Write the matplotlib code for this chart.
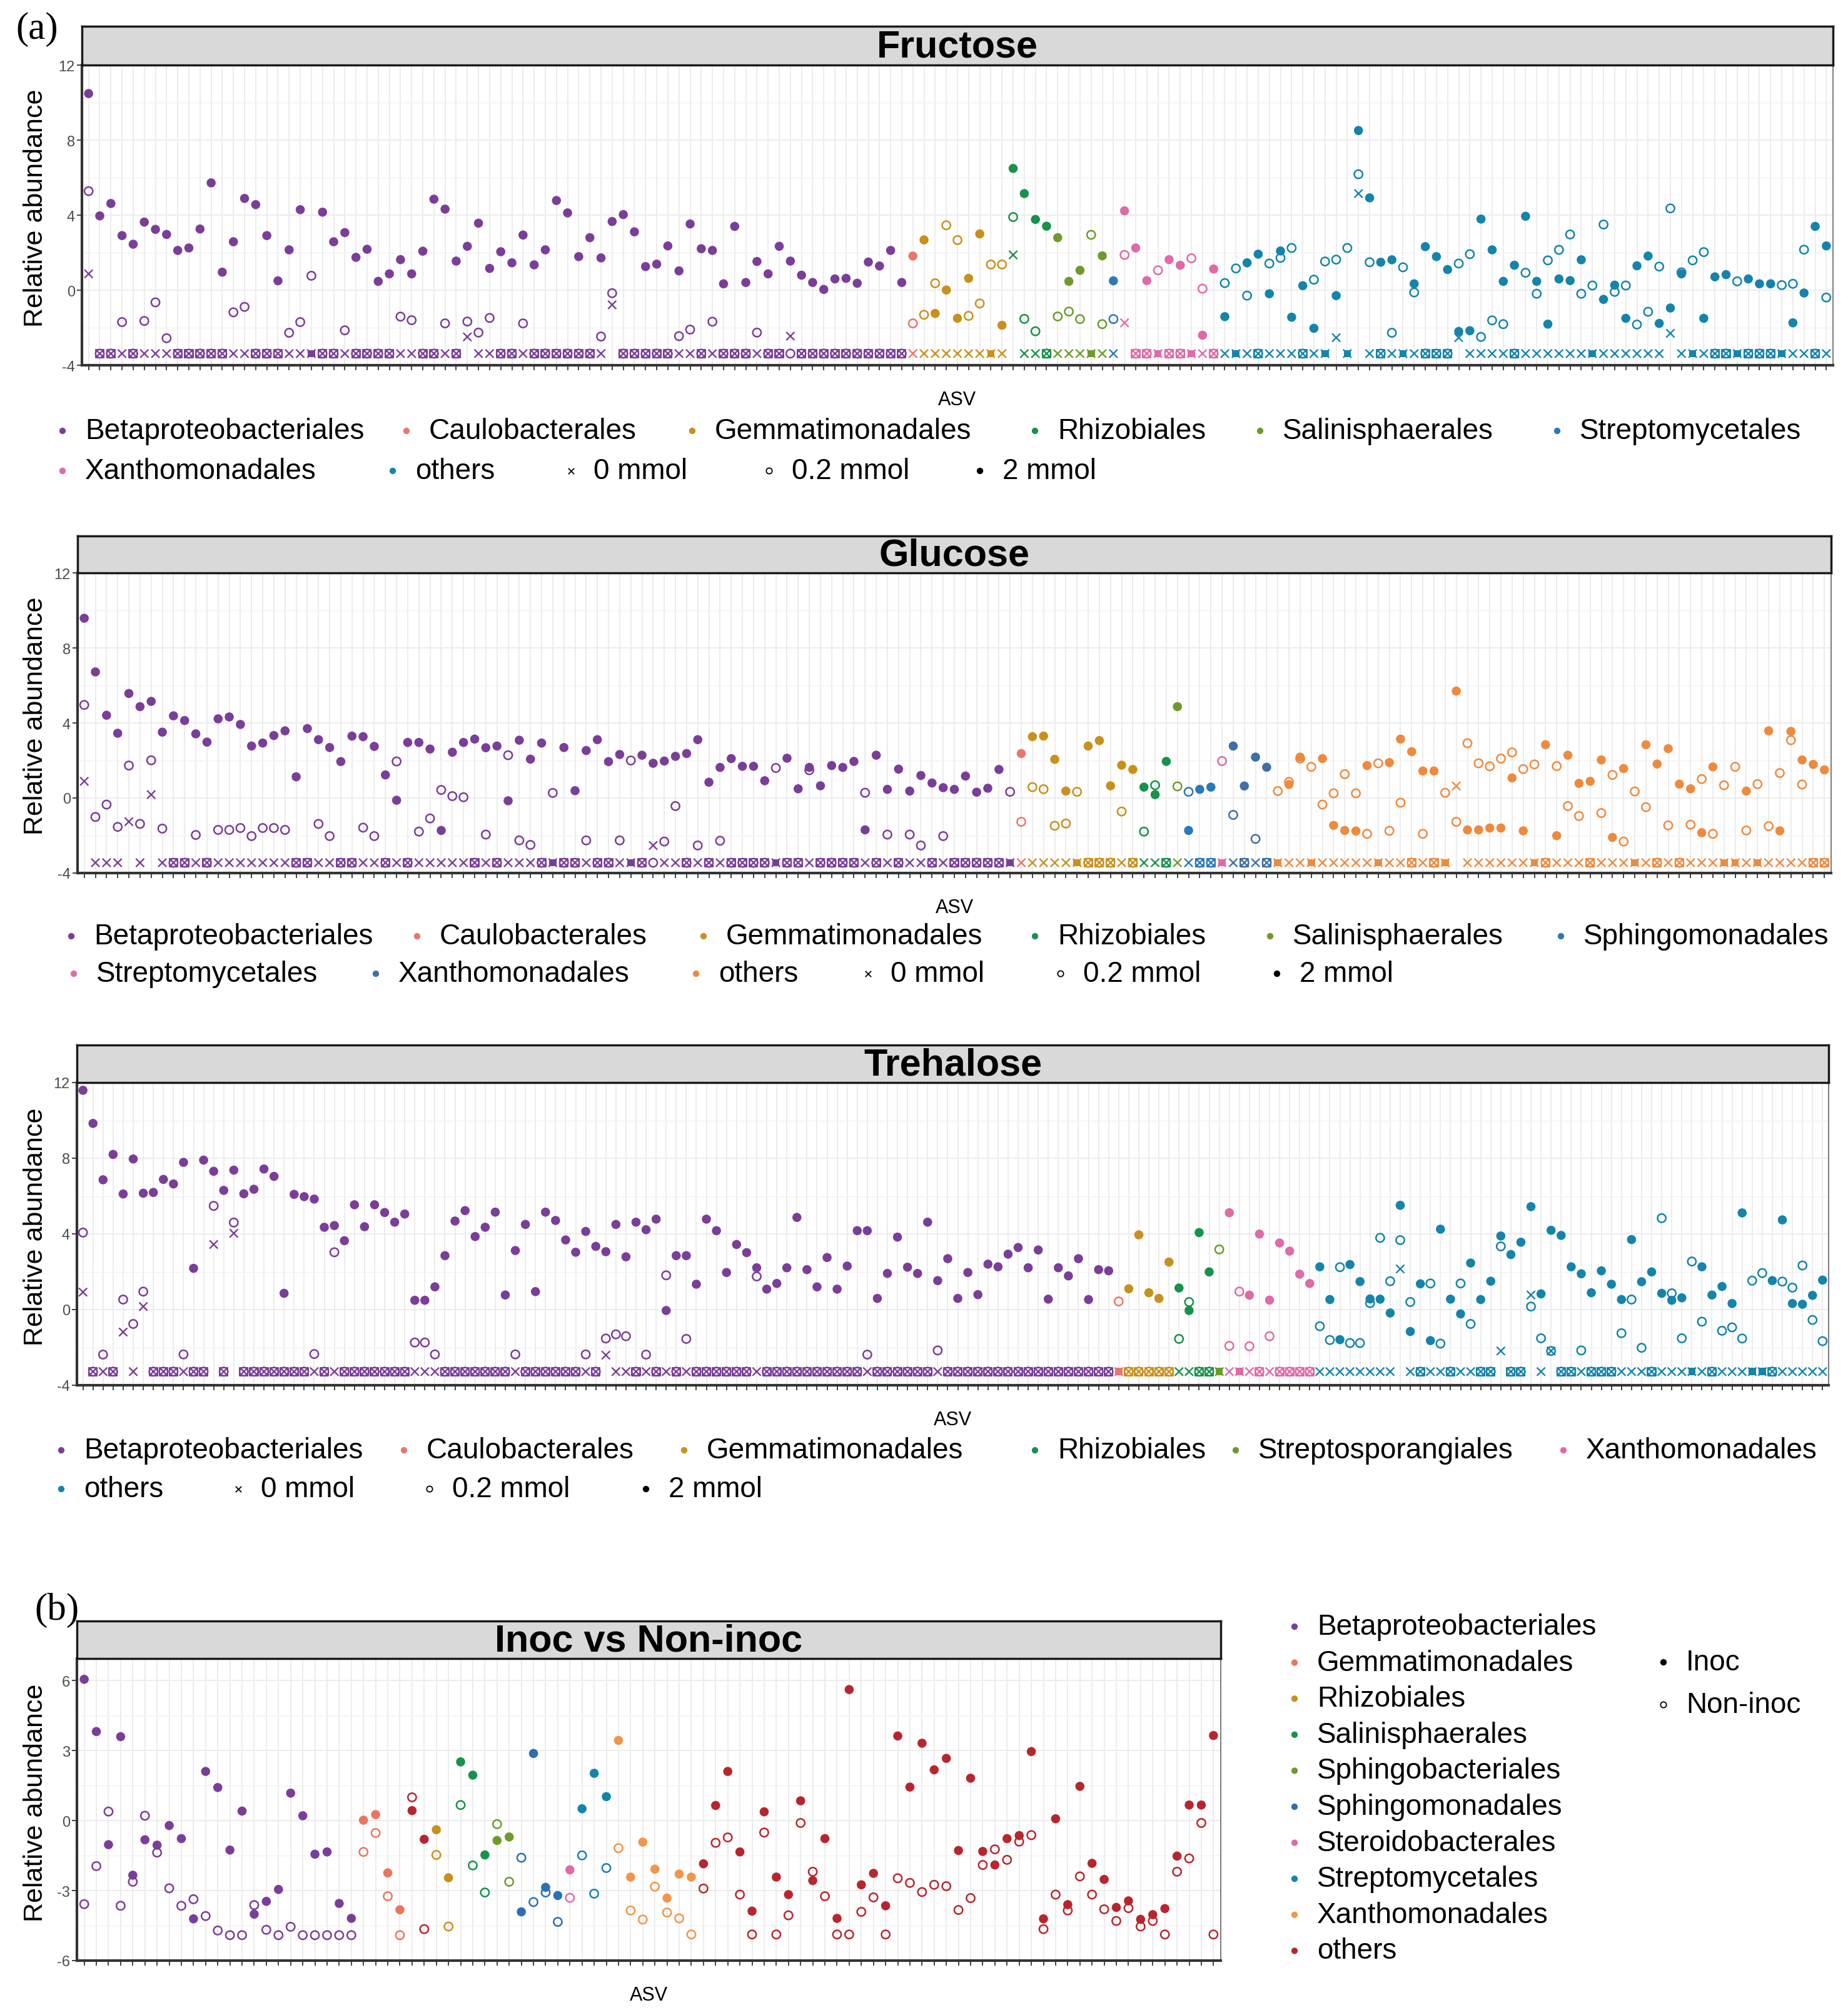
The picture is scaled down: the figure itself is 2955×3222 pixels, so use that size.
import numpy as np
import matplotlib
matplotlib.use("Agg")
import matplotlib.pyplot as plt

plt.rcParams['font.family'] = ['Liberation Sans', 'DejaVu Sans']

W, H = 2955, 3223

# ---------------- Fructose ----------------
fru_orders = ['Betaproteobacteriales', 'Caulobacterales', 'Gemmatimonadales', 'Rhizobiales',
              'Salinisphaerales', 'Streptomycetales', 'Xanthomonadales', 'others']
fru_counts = [74, 1, 8, 4, 5, 1, 9, 55]
fru_colors = ['#7A3E98', '#E8766D', '#C8901C', '#17924A', '#6E9A2C', '#2B79B8', '#DE6AA6', '#1484AA']
f = -3.38  # valor minimo (no detectado)
fru_2mmol = [10.48, 3.96, 4.62, 2.91, 2.45, 3.63, 3.24, 2.97, 2.12, 2.25,
             3.26, 5.72, 0.96, 2.58, 4.89, 4.56, 2.91, 0.50, 2.15, 4.29,
             f, 4.16, 2.58, 3.07, 1.75, 2.18, 0.47, 0.87, 1.63, 0.87,
             2.08, 4.85, 4.32, 1.55, 2.34, 3.57, 1.16, 2.05, 1.46, 2.94,
             1.35, 2.15, 4.78, 4.12, 1.79, 2.80, 1.72, 3.66, 4.03, 3.11,
             1.26, 1.39, 2.36, 1.03, 3.53, 2.21, 2.12, 0.34, 3.40, 0.41,
             1.53, 0.87, 2.34, 1.55, 0.80, 0.41, 0.04, 0.60, 0.63, 0.37,
             1.50, 1.29, 2.12, 0.41, 1.82, 2.68, -1.24, 0.01, -1.50, 0.63,
             3.00, f, -1.87, 6.49, 5.15, 3.77, 3.41, 2.80, 0.47, 1.06,
             f, 1.83, 0.50, 4.23, 2.25, 0.51, f, 1.63, 1.33, f,
             -2.40, 1.13, -1.41, f, 1.46, 1.92, -0.19, 2.09, -1.44, 0.24,
             -2.03, f, -0.29, f, 8.51, 4.92, 1.49, 1.62, f, 0.34,
             2.32, 1.79, 1.10, -2.20, -2.16, 3.79, 2.15, 0.47, 1.33, 3.94,
             0.47, -1.81, 0.60, 0.51, 1.62, f, -0.49, 0.27, -1.50, 1.30,
             1.82, -1.77, -0.95, 0.87, f, -1.50, 0.71, 0.83, f, 0.60,
             0.34, 0.34, f, -1.74, -0.15, 3.40, 2.36]
fru_02mmol = [5.28, f, f, -1.70, f, -1.64, -0.65, -2.56, f, f,
              f, f, f, -1.18, -0.89, f, f, f, -2.27, -1.70,
              0.77, f, f, -2.14, f, f, f, f, -1.41, -1.60,
              f, f, -1.77, f, -1.67, -2.26, -1.48, f, f, -1.77,
              f, f, f, f, f, f, -2.47, -0.16, f, f,
              f, f, f, -2.45, -2.10, f, -1.68, f, f, f,
              -2.26, f, f, f, f, f, f, f, f, f,
              f, f, f, f, -1.77, -1.31, 0.37, 3.46, 2.67, -1.37,
              -0.71, 1.37, 1.37, 3.90, -1.53, -2.19, f, -1.40, -1.14, -1.54,
              2.95, -1.81, -1.54, 1.88, f, f, 1.06, f, f, 1.70,
              0.08, f, 0.38, 1.16, -0.29, f, 1.42, 1.72, 2.25, f,
              0.56, 1.53, 1.63, 2.25, 6.18, 1.49, f, -2.27, 1.22, -0.12,
              f, f, f, 1.42, 1.92, -2.49, -1.61, -1.81, f, 0.93,
              -0.19, 1.59, 2.15, 2.97, -0.19, 0.25, 3.50, -0.09, 0.25, -1.83,
              -1.15, 1.26, 4.36, 0.95, 1.59, 2.03, f, f, 0.47, f,
              f, f, 0.27, 0.34, 2.16, f, -0.39]
fru_0mmol = [0.87, f, f, f, f, f, f, f, f, f,
             f, f, f, f, f, f, f, f, f, f,
             f, f, f, f, f, f, f, f, f, f,
             f, f, f, f, -2.49, f, f, f, f, f,
             f, f, f, f, f, f, f, -0.78, f, f,
             f, f, f, f, f, f, f, f, f, f,
             f, f, f, -2.45, f, f, f, f, f, f,
             f, f, f, f, f, f, f, f, f, f,
             f, f, f, 1.88, f, f, f, f, f, f,
             f, f, f, -1.74, f, f, f, f, f, f,
             f, f, f, f, f, f, f, f, f, f,
             f, f, -2.53, f, 5.15, f, f, f, f, f,
             f, f, f, -2.53, f, f, f, f, f, f,
             f, f, f, f, f, f, f, f, f, f,
             f, f, -2.30, f, f, f, f, f, f, f,
             f, f, f, f, f, f, f]

# ---------------- Glucose ----------------
glu_orders = ['Betaproteobacteriales', 'Caulobacterales', 'Gemmatimonadales', 'Rhizobiales',
              'Salinisphaerales', 'Sphingomonadales', 'Streptomycetales', 'Xanthomonadales', 'others']
glu_counts = [84, 1, 10, 3, 1, 3, 1, 4, 50]
glu_colors = ['#7A3E98', '#E8766D', '#C8901C', '#17924A', '#6E9A2C', '#2B79B8', '#DE6AA6', '#3F6FA6', '#EE8A3E']
g = -3.45
glu_2mmol = [9.58, 6.72, 4.41, 3.45, 5.57, 4.87, 5.15, 3.51, 4.38, 4.13,
             3.42, 2.98, 4.22, 4.32, 3.92, 2.77, 2.93, 3.33, 3.58, 1.13,
             3.70, 3.11, 2.69, 1.94, 3.30, 3.27, 2.75, 1.23, -0.12, 2.96,
             2.96, 2.61, -1.73, 2.44, 2.96, 3.14, 2.68, 2.77, -0.15, 3.08,
             2.07, 2.93, g, 2.69, 0.39, 2.53, 3.11, 1.94, 2.32, g,
             2.28, 1.85, 1.97, 2.22, 2.37, 3.11, 0.84, 1.63, 2.10, 1.69,
             1.69, 0.92, g, 2.12, 0.49, 1.63, 0.65, 1.73, 1.63, 1.95,
             -1.70, 2.28, 0.46, 1.54, 0.37, 1.20, 0.80, 0.55, 0.46, 1.17,
             0.31, 0.52, 1.52, g, 2.37, 3.27, 3.30, 2.06, 0.37, g,
             2.77, 3.06, 0.65, 1.75, 1.52, 0.58, 0.18, 1.95, 4.87, -1.73,
             0.46, 0.58, g, 2.77, 0.64, 2.18, 1.64, g, 0.72, 2.18,
             g, 2.10, -1.46, -1.73, -1.76, 1.73, g, 1.89, 3.14, 2.47,
             1.44, 1.44, g, 5.70, -1.70, -1.70, -1.60, -1.60, 1.07, -1.75,
             g, 2.84, -2.01, 2.28, 0.78, 0.89, 2.03, -2.10, 1.57, g,
             2.84, 1.81, 2.63, 0.74, 0.49, -1.85, 1.66, g, g, 0.37,
             g, 3.58, -1.75, 3.55, 2.03, 1.79, 1.50]
glu_02mmol = [4.96, -1.01, -0.35, -1.54, 1.73, -1.38, 2.01, -1.63, g, g,
              -1.97, g, -1.70, -1.70, -1.60, -2.03, -1.60, -1.60, -1.70, g,
              g, -1.38, -2.03, g, g, -1.58, -2.03, g, 1.95, g,
              -1.79, -1.09, 0.43, 0.10, 0.04, g, -1.95, g, 2.28, -2.26,
              -2.50, g, 0.27, g, g, -2.26, g, g, -2.26, 2.00,
              g, g, -2.32, -0.43, g, -2.53, g, -2.28, g, g,
              g, g, 1.60, g, g, 1.48, g, g, g, g,
              0.28, g, -1.95, g, -1.95, -2.53, g, -2.03, g, g,
              g, g, g, 0.33, -1.27, 0.58, 0.47, -1.48, -1.36, 0.33,
              g, g, g, -0.72, g, -1.79, 0.68, g, 0.62, 0.33,
              g, g, 1.97, -0.90, g, -2.18, g, 0.37, 0.86, 2.10,
              1.66, -0.35, 0.25, 1.27, 0.25, -1.91, 1.85, -1.75, -0.25, g,
              -1.91, g, 0.28, -1.27, 2.92, 1.85, 1.69, 2.10, 2.43, 1.54,
              1.79, g, 1.70, -0.43, -0.96, g, -0.80, 1.23, -2.32, 0.35,
              -0.49, g, -1.46, g, -1.42, 1.01, -1.91, 0.68, 1.66, -1.73,
              0.74, -1.50, 1.33, 3.08, 0.72, g, g]
glu_0mmol = [0.89, g, g, g, -1.26, g, 0.18, g, g, g,
             g, g, g, g, g, g, g, g, g, g,
             g, g, g, g, g, g, g, g, g, g,
             g, g, g, g, g, g, g, g, g, g,
             g, g, g, g, g, g, g, g, g, g,
             g, -2.53, g, g, g, g, g, g, g, g,
             g, g, g, g, g, g, g, g, g, g,
             g, g, g, g, g, g, g, g, g, g,
             g, g, g, g, g, g, g, g, g, g,
             g, g, g, g, g, g, g, g, g, g,
             g, g, g, g, g, g, g, g, g, g,
             g, g, g, g, g, g, g, g, g, g,
             g, g, g, 0.64, g, g, g, g, g, g,
             g, g, g, g, g, g, g, g, g, g,
             g, g, g, g, g, g, g, g, g, g,
             g, g, g, g, g, g, g]

# ---------------- Trehalose ----------------
tre_orders = ['Betaproteobacteriales', 'Caulobacterales', 'Gemmatimonadales', 'Rhizobiales',
              'Streptosporangiales', 'Xanthomonadales', 'others']
tre_counts = [103, 1, 5, 4, 1, 9, 51]
tre_colors = ['#7A3E98', '#E8766D', '#C8901C', '#17924A', '#6E9A2C', '#DE6AA6', '#1484AA']
t = -3.28
tre_2mmol = [11.59, 9.84, 6.86, 8.20, 6.11, 7.96, 6.15, 6.19, 6.88, 6.64,
             7.78, 2.18, 7.90, 7.31, 6.30, 7.37, 6.12, 6.36, 7.43, 7.04,
             0.86, 6.09, 5.97, 5.84, 4.35, 4.44, 3.64, 5.54, 4.38, 5.54,
             5.13, 4.62, 5.05, 0.49, 0.49, 1.20, 2.85, 4.68, 5.23, 3.86,
             4.35, 5.15, 0.77, 3.12, 4.50, 0.95, 5.15, 4.71, 3.68, 3.03,
             4.13, 3.34, 3.06, 4.50, 2.79, 4.62, 4.22, 4.78, -0.05, 2.85,
             2.85, 1.34, 4.78, 4.17, 1.96, 3.44, 3.01, 2.21, 1.08, 1.38,
             2.21, 4.87, 2.11, 1.20, 2.75, 1.08, 2.30, 4.17, 4.17, 0.59,
             1.91, 3.83, 2.24, 1.91, 4.62, 1.53, 2.69, 0.59, 1.96, 0.79,
             2.40, 2.26, 2.93, 3.28, 2.21, 3.15, 0.55, 2.21, 1.78, 2.69,
             0.53, 2.11, 2.05, t, 1.10, 3.95, 0.89, 0.59, 2.51, 1.14,
             -0.05, 4.07, 1.99, t, 5.12, t, 0.76, 3.99, 0.50, 3.52,
             3.09, 1.87, 1.38, 2.26, 0.53, -1.59, 2.38, 1.48, 0.56, 0.55,
             -0.18, 5.51, -1.16, 1.36, -1.64, 4.25, 0.55, -0.23, 2.46, 0.53,
             1.50, 3.89, 2.91, 3.56, 5.44, 0.83, 4.19, 3.92, 2.26, 1.89,
             0.89, 2.05, 1.34, 0.53, 3.70, 1.47, 1.99, 0.86, 0.49, 0.62,
             t, 2.26, 0.77, 1.22, 0.32, 5.11, t, t, 1.53, 4.74,
             0.32, 0.28, 0.75, 1.56]
tre_02mmol = [4.07, t, -2.38, t, 0.53, -0.76, 0.95, t, t, t,
              -2.37, t, t, 5.48, t, 4.60, t, t, t, t,
              t, t, t, -2.35, t, 3.03, t, t, t, t,
              t, t, t, -1.74, -1.74, -2.37, t, t, t, t,
              t, t, t, -2.37, t, t, t, t, t, t,
              -2.37, t, -1.53, -1.31, -1.41, t, -2.38, t, 1.81, t,
              -1.55, t, t, t, t, t, t, 1.75, t, t,
              t, t, t, t, t, t, t, t, -2.38, t,
              t, t, t, t, t, -2.16, t, t, t, t,
              t, t, t, t, t, t, t, t, t, t,
              t, t, t, 0.43, t, t, t, t, t, -1.55,
              0.40, t, t, 3.18, -1.92, 0.95, -1.94, t, -1.41, t,
              t, t, t, -0.88, -1.61, 2.24, -1.77, -1.77, 0.34, 3.79,
              1.50, 3.67, 0.40, t, 1.38, -1.80, t, 1.38, -0.76, t,
              t, 3.34, t, t, 0.16, -1.52, -2.19, t, t, -2.16,
              t, t, t, -1.25, 0.53, -2.02, t, 4.83, 0.86, -1.52,
              2.54, -0.64, t, -1.12, -0.94, -1.53, 1.53, 1.93, t, 1.48,
              1.16, 2.33, -0.55, -1.67]
tre_0mmol = [0.92, t, t, t, -1.19, t, 0.16, t, t, t,
             t, t, t, 3.44, t, 4.03, t, t, t, t,
             t, t, t, t, t, t, t, t, t, t,
             t, t, t, t, t, t, t, t, t, t,
             t, t, t, t, t, t, t, t, t, t,
             t, t, -2.41, t, t, t, t, t, t, t,
             t, t, t, t, t, t, t, t, t, t,
             t, t, t, t, t, t, t, t, t, t,
             t, t, t, t, t, t, t, t, t, t,
             t, t, t, t, t, t, t, t, t, t,
             t, t, t, t, t, t, t, t, t, t,
             t, t, t, t, t, t, t, t, t, t,
             t, t, t, t, t, t, t, t, t, t,
             t, 2.15, t, t, t, t, t, t, t, t,
             t, -2.19, t, t, 0.77, t, -2.19, t, t, t,
             t, t, t, t, t, t, t, t, t, t,
             t, t, t, t, t, t, t, t, t, t,
             t, t, t, t]

# ---------------- Inoc vs Non-inoc ----------------
inoc_orders = ['Betaproteobacteriales', 'Gemmatimonadales', 'Rhizobiales', 'Salinisphaerales',
               'Sphingobacteriales', 'Sphingomonadales', 'Steroidobacterales', 'Streptomycetales',
               'Xanthomonadales', 'others']
inoc_colors = ['#7A3E98', '#E8765C', '#C8901C', '#17924A', '#6E9A2C', '#2B6FB5', '#DE6AA6',
               '#1484AA', '#F0954A', '#B8262D']
inoc_runs = ['Betaproteobacteriales', 'Gemmatimonadales', 'others', 'Rhizobiales', 'Salinisphaerales',
             'Sphingobacteriales', 'Sphingomonadales', 'Steroidobacterales', 'Streptomycetales',
             'Xanthomonadales', 'others']
inoc_run_counts = [23, 4, 2, 2, 3, 2, 4, 1, 3, 7, 43]
inoc_vals = [6.06, 3.82, -1.03, 3.60, -2.34, -0.82, -1.05, -0.21, -0.77, -4.21,
             2.11, 1.42, -1.26, 0.41, -4.01, -3.46, -2.95, 1.18, 0.21, -1.44,
             -1.34, -3.55, -4.19, 0.02, 0.26, -2.24, -3.82, 0.43, -0.80, -0.39,
             -2.45, 2.52, 1.95, -1.47, -0.85, -0.70, -3.91, 2.88, -2.86, -3.21,
             -2.11, 0.51, 2.03, 1.03, 3.44, -2.42, -0.92, -2.08, -3.32, -2.29,
             -2.42, -1.85, 0.65, 2.11, -1.34, -3.88, 0.38, -2.42, -3.17, 0.85,
             -2.57, -0.77, -4.19, 5.62, -2.75, -2.26, -3.65, 3.63, 1.44, 3.32,
             2.18, 2.67, -1.28, 1.82, -1.32, -1.90, -0.77, -0.64, 2.96, -4.21,
             0.08, -3.60, 1.47, -1.83, -2.52, -3.72, -3.44, -4.23, -4.03, -3.77,
             -1.52, 0.67, 0.67, 3.65]
noninoc_vals = [-3.58, -1.95, 0.39, -3.65, -2.62, 0.21, -1.37, -2.90, -3.65, -3.37,
                -4.09, -4.71, -4.91, -4.91, -3.62, -4.68, -4.91, -4.55, -4.91, -4.91,
                -4.91, -4.91, -4.91, -1.34, -0.53, -3.24, -4.91, 1.00, -4.65, -1.47,
                -4.54, 0.67, -1.92, -3.08, -0.15, -2.62, -1.59, -3.49, -3.08, -4.34,
                -3.31, -1.49, -3.13, -2.03, -1.18, -3.85, -4.24, -2.83, -3.94, -4.19,
                -4.88, -2.91, -0.95, -0.72, -3.17, -4.88, -0.51, -4.88, -4.06, -0.10,
                -2.19, -3.24, -4.88, -4.88, -3.91, -3.29, -4.88, -2.47, -2.67, -3.06,
                -2.75, -2.81, -3.83, -3.32, -1.90, -1.23, -1.68, -0.90, -0.62, -4.65,
                -3.17, -3.85, -2.39, -3.17, -3.80, -4.30, -3.75, -4.54, -4.30, -4.88,
                -2.19, -1.62, -0.10, -4.88]

dose_labels = ['0 mmol', '0.2 mmol', '2 mmol']
inoc_labels = ['Inoc', 'Non-inoc']

fig = plt.figure(figsize=(W / 100, H / 100), dpi=100)

# capa para textos y leyendas en pixeles
lay = fig.add_axes([0, 0, 1, 1], zorder=5)
lay.set_xlim(0, W)
lay.set_ylim(H, 0)
lay.axis('off')

tick_font = ['Liberation Sans Narrow', 'Liberation Sans', 'DejaVu Sans']


def draw_points(ax, x, vals, cols, kind, floor=None, boxed=None):
    v = np.array(vals, dtype=float)
    cols = np.array(cols)
    low = np.isclose(v, floor) if floor is not None else np.zeros(len(v), bool)
    if kind == 'x':
        ax.scatter(x, v, marker='x', c=cols, s=90, linewidths=1.7, zorder=3)
    elif kind == 'open':
        ax.scatter(x, v, marker='o', facecolors='none', edgecolors=cols, s=92,
                   linewidths=1.8, zorder=3)
        if boxed is not None and boxed.any():
            # caja alrededor de los no detectados (circulo + cruz)
            ax.scatter(x[boxed], v[boxed], marker='s', facecolors='none',
                       edgecolors=cols[boxed], s=88, linewidths=1.4, zorder=3)
    else:
        ax.scatter(x[~low], v[~low], marker='o', c=cols[~low], edgecolors='none', s=110, zorder=4)
        if low.any():
            ax.scatter(x[low], v[low], marker='s', c=cols[low], edgecolors='none', s=70, zorder=4)


def panel(box, strip_top, title, runs, run_counts, palette, series, ylim, yticks, yminor, floor=None):
    left, top, right, bottom = box
    ax = fig.add_axes([left / W, 1 - bottom / H, (right - left) / W, (bottom - top) / H])
    cols = [palette[name] for name, n in zip(runs, run_counts) for _ in range(n)]
    n = len(cols)
    x = np.arange(1, n + 1)
    boxed = None
    if floor is not None:
        v0 = np.array(series[0][0], dtype=float)
        v02 = np.array(series[1][0], dtype=float)
        boxed = np.isclose(v0, floor) & np.isclose(v02, floor)
    for vals, kind in series:
        draw_points(ax, x, vals, cols, kind, floor, boxed)
    ax.set_xlim(0.4, n + 0.6)
    ax.set_ylim(*ylim)
    ax.set_xticks(x)
    ax.set_xticklabels([])
    ax.set_yticks(yticks)
    ax.set_yticks(yminor, minor=True)
    ax.set_yticklabels([f'{v:g}' for v in yticks], family=tick_font)
    ax.set_axisbelow(True)
    ax.grid(True, which='major', color='#ebebeb', linewidth=1.3)
    ax.grid(True, which='minor', axis='y', color='#f2f2f2', linewidth=1.0)
    ax.tick_params(axis='both', which='major', length=6, width=1.3, color='#333333',
                   labelsize=17, labelcolor='#4d4d4d', pad=2)
    ax.tick_params(axis='y', which='minor', length=0)
    for sp in ax.spines.values():
        sp.set_color('#7f7f7f')
        sp.set_linewidth(1.5)
    ax.spines['left'].set_color('#333333')
    ax.spines['left'].set_linewidth(3)
    ax.spines['bottom'].set_color('#333333')
    ax.spines['bottom'].set_linewidth(3)

    sa = fig.add_axes([left / W, 1 - top / H, (right - left) / W, (top - strip_top) / H])
    sa.set_facecolor('#d9d9d9')
    sa.set_xticks([])
    sa.set_yticks([])
    for sp in sa.spines.values():
        sp.set_color('#1a1a1a')
        sp.set_linewidth(2.5)
    sa.text(0.5, 0.47, title, ha='center', va='center', fontsize=44, fontweight='bold',
            transform=sa.transAxes)

    lay.text(57, (top + bottom) / 2 - 12, 'Relative abundance', rotation=90, ha='center',
             va='center', fontsize=31)
    lay.text((left + right) / 2, bottom + 55, 'ASV', ha='center', va='center', fontsize=22)
    return ax


def key(kind, color, label, tx, ty, off=36):
    if kind == 'x':
        lay.scatter([tx - off], [ty], marker='x', c=color, s=45, linewidths=1.3)
    elif kind == 'open':
        lay.scatter([tx - off], [ty], marker='o', facecolors='none', edgecolors=color,
                    s=45, linewidths=1.3)
    else:
        lay.scatter([tx - off], [ty], marker='o', c=color, edgecolors='none', s=55)
    lay.text(tx, ty, label, ha='left', va='center', fontsize=33)


yt_a = [-4, 0, 4, 8, 12]
ym_a = [-2, 2, 6, 10]
dose_kinds = ['x', 'open', 'filled']

# (a) Fructose
panel((131, 105, 2931, 585), 43, 'Fructose', fru_orders, fru_counts,
      dict(zip(fru_orders, fru_colors)),
      [(fru_0mmol, 'x'), (fru_02mmol, 'open'), (fru_2mmol, 'filled')],
      (-4, 12), yt_a, ym_a, floor=f)
fru_leg_x = [136, 686, 1143, 1691, 2051, 2526, 136, 664]
fru_leg_y = [690] * 6 + [754] * 2
for name, col, lx, ly in zip(fru_orders, fru_colors, fru_leg_x, fru_leg_y):
    key('filled', col, name, lx, ly)
for lab, kd, lx in zip(dose_labels, dose_kinds, [949, 1266, 1603]):
    key(kd, 'black', lab, lx, 754)

# Glucose
panel((124, 917, 2928, 1397), 858, 'Glucose', glu_orders, glu_counts,
      dict(zip(glu_orders, glu_colors)),
      [(glu_0mmol, 'x'), (glu_02mmol, 'open'), (glu_2mmol, 'filled')],
      (-4, 12), yt_a, ym_a, floor=g)
glu_leg_x = [150, 703, 1161, 1691, 2067, 2532, 154, 637, 1149]
glu_leg_y = [1498] * 6 + [1558] * 3
for name, col, lx, ly in zip(glu_orders, glu_colors, glu_leg_x, glu_leg_y):
    key('filled', col, name, lx, ly)
for lab, kd, lx in zip(dose_labels, dose_kinds, [1424, 1732, 2078]):
    key(kd, 'black', lab, lx, 1558)

# Trehalose
panel((123, 1732, 2924, 2216), 1672, 'Trehalose', tre_orders, tre_counts,
      dict(zip(tre_orders, tre_colors)),
      [(tre_0mmol, 'x'), (tre_02mmol, 'open'), (tre_2mmol, 'filled')],
      (-4, 12), yt_a, ym_a, floor=t)
tre_leg_x = [134, 682, 1130, 1691, 2012, 2536, 134]
tre_leg_y = [2320] * 6 + [2382]
for name, col, lx, ly in zip(tre_orders, tre_colors, tre_leg_x, tre_leg_y):
    key('filled', col, name, lx, ly)
for lab, kd, lx in zip(dose_labels, dose_kinds, [417, 723, 1069]):
    key(kd, 'black', lab, lx, 2382)

# (b) Inoc vs Non-inoc
panel((123, 2653, 1952, 3136), 2593, 'Inoc vs Non-inoc', inoc_runs, inoc_run_counts,
      dict(zip(inoc_orders, inoc_colors)),
      [(noninoc_vals, 'open'), (inoc_vals, 'filled')],
      (-6, 6.95), [-6, -3, 0, 3, 6], [-4.5, -1.5, 1.5, 4.5])
for i, (name, col) in enumerate(zip(inoc_orders, inoc_colors)):
    key('filled', col, name, 2106, 2602 + i * 57.6)
key('filled', 'black', inoc_labels[0], 2696, 2659)
key('open', 'black', inoc_labels[1], 2696, 2727)

lay.text(25, 47, '(a)', ha='left', va='center', fontsize=44, family=['Liberation Serif', 'DejaVu Serif'])
lay.text(55, 2575, '(b)', ha='left', va='center', fontsize=44, family=['Liberation Serif', 'DejaVu Serif'])

fig.savefig('out.png', dpi=100)
